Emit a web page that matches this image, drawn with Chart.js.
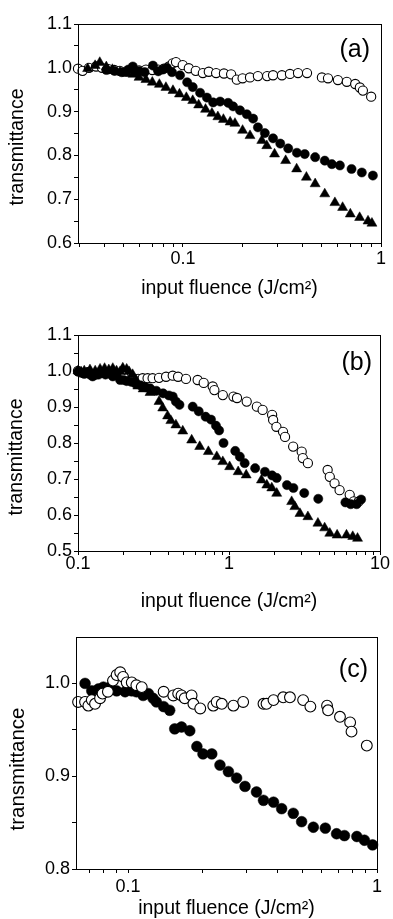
<!DOCTYPE html>
<html><head><meta charset="utf-8">
<script src="https://cdn.jsdelivr.net/npm/chart.js@4.4.1/dist/chart.umd.min.js"></script>
<style>
html,body{margin:0;padding:0;background:#fff;width:393px;height:919px;overflow:hidden;position:relative;}
canvas{position:absolute;left:0;}
</style></head><body>
<canvas id="ca" width="393" height="310" style="top:0px"></canvas>
<canvas id="cb" width="393" height="320" style="top:300px"></canvas>
<canvas id="cc" width="393" height="314" style="top:605px"></canvas>
<script>
// ---------- DATA ----------
// panel (a)
const aOpenX = [0.0295,0.0311,0.0335,0.0364,0.039,0.042,0.045,0.048,0.052,0.056,0.060,0.065,0.070,0.075,0.080,0.085,0.0887,0.0922,0.0997,0.107,0.116,0.126,0.135,0.147,0.161,0.175,0.187,0.200,0.218,0.239,0.266,0.285,0.316,0.347,0.381,0.423,0.503,0.540,0.606,0.672,0.741,0.782,0.810,0.892];
const aOpenY = [0.998,0.993,1.000,1.003,1.000,0.997,0.995,0.993,0.992,0.993,0.994,0.996,0.995,0.996,0.998,1.003,1.010,1.013,1.006,0.999,0.993,0.988,0.991,0.988,0.987,0.985,0.973,0.976,0.978,0.981,0.981,0.983,0.983,0.986,0.988,0.988,0.978,0.976,0.972,0.968,0.963,0.955,0.948,0.934];
const aFillX = [0.041,0.045,0.049,0.053,0.0558,0.060,0.064,0.0705,0.075,0.079,0.083,0.088,0.0966,0.105,0.112,0.122,0.132,0.142,0.154,0.169,0.179,0.194,0.210,0.226,0.239,0.259,0.285,0.310,0.340,0.376,0.412,0.465,0.520,0.565,0.620,0.710,0.800,0.910];
const aFillY = [0.995,0.993,0.990,0.996,1.003,0.992,0.990,1.005,0.992,0.996,1.000,0.990,0.983,0.967,0.956,0.943,0.932,0.921,0.923,0.920,0.912,0.903,0.894,0.884,0.864,0.851,0.839,0.827,0.816,0.806,0.803,0.796,0.788,0.780,0.777,0.769,0.761,0.754];
const aTriX = [0.033,0.036,0.038,0.041,0.044,0.048,0.052,0.056,0.060,0.065,0.070,0.076,0.082,0.089,0.096,0.104,0.112,0.120,0.130,0.140,0.150,0.160,0.173,0.183,0.200,0.218,0.250,0.265,0.290,0.330,0.375,0.420,0.465,0.520,0.585,0.640,0.700,0.780,0.860,0.900];
const aTriY = [0.998,1.005,1.012,1.002,0.996,0.990,0.987,0.985,0.978,0.973,0.967,0.962,0.955,0.948,0.940,0.932,0.925,0.915,0.905,0.896,0.888,0.882,0.876,0.873,0.857,0.845,0.834,0.822,0.803,0.788,0.769,0.750,0.735,0.712,0.692,0.681,0.666,0.658,0.650,0.645];
// panel (b)
const bOpenX = [0.100,0.115,0.130,0.150,0.170,0.200,0.230,0.250,0.268,0.289,0.312,0.344,0.383,0.424,0.460,0.519,0.620,0.680,0.780,0.800,0.910,1.070,1.130,1.310,1.530,1.670,1.930,1.960,2.060,2.280,2.350,2.660,3.030,3.080,3.330,4.500,4.650,5.000,5.400,6.300,6.700,7.200];
const bOpenY = [1.000,0.995,0.990,0.995,0.990,0.985,0.980,0.978,0.980,0.980,0.980,0.981,0.984,0.987,0.984,0.978,0.975,0.967,0.957,0.947,0.933,0.929,0.925,0.915,0.901,0.892,0.878,0.864,0.845,0.831,0.817,0.790,0.776,0.758,0.744,0.725,0.706,0.688,0.669,0.656,0.638,0.637];
const bFillX = [0.100,0.105,0.110,0.115,0.120,0.125,0.130,0.137,0.145,0.152,0.160,0.170,0.180,0.190,0.200,0.210,0.225,0.240,0.260,0.280,0.300,0.330,0.366,0.400,0.424,0.445,0.470,0.575,0.630,0.700,0.760,0.820,0.860,0.920,1.100,1.180,1.270,1.490,1.730,1.930,2.070,2.420,2.670,3.150,3.900,5.900,6.400,7.000,7.500];
const bFillY = [0.998,0.995,0.992,0.997,0.990,0.985,0.993,0.990,0.996,0.990,0.993,0.985,0.988,0.975,0.975,0.972,0.970,0.965,0.960,0.955,0.952,0.945,0.938,0.932,0.929,0.915,0.906,0.901,0.888,0.873,0.865,0.848,0.835,0.800,0.778,0.762,0.744,0.730,0.720,0.710,0.703,0.683,0.675,0.661,0.645,0.635,0.630,0.630,0.643];
const bTriX = [0.100,0.105,0.110,0.115,0.120,0.130,0.140,0.150,0.160,0.170,0.180,0.190,0.198,0.210,0.218,0.230,0.242,0.249,0.270,0.300,0.344,0.364,0.392,0.412,0.445,0.494,0.566,0.640,0.730,0.830,0.910,1.010,1.150,1.300,1.640,1.780,1.920,2.070,2.600,2.730,2.950,3.330,3.880,4.300,4.650,5.200,6.000,6.600,7.100];
const bTriY = [1.000,0.997,1.000,0.995,1.003,1.000,1.005,1.007,1.003,1.007,1.000,0.998,1.008,1.005,0.998,0.990,0.975,0.958,0.950,0.940,0.915,0.897,0.875,0.862,0.850,0.833,0.808,0.790,0.776,0.762,0.748,0.734,0.720,0.711,0.697,0.683,0.675,0.660,0.637,0.623,0.604,0.595,0.577,0.564,0.549,0.544,0.544,0.540,0.535];
// panel (c)
const cOpenX = [0.063,0.0672,0.0693,0.0715,0.0737,0.0772,0.079,0.083,0.087,0.090,0.093,0.0955,0.0988,0.1035,0.108,0.1135,0.139,0.152,0.159,0.164,0.169,0.180,0.183,0.195,0.220,0.227,0.238,0.265,0.290,0.350,0.360,0.384,0.420,0.447,0.505,0.540,0.630,0.636,0.710,0.780,0.790,0.910];
const cOpenY = [0.980,0.980,0.976,0.982,0.978,0.984,0.989,0.991,1.003,1.009,1.012,1.007,1.001,1.001,0.998,0.996,0.991,0.987,0.989,0.987,0.984,0.987,0.978,0.973,0.976,0.980,0.978,0.976,0.980,0.978,0.978,0.982,0.985,0.985,0.982,0.975,0.976,0.971,0.964,0.958,0.948,0.933];
const cFillX = [0.0672,0.0715,0.076,0.0796,0.0847,0.090,0.0973,0.1035,0.108,0.115,0.1207,0.126,0.130,0.139,0.147,0.154,0.164,0.177,0.189,0.200,0.217,0.234,0.253,0.273,0.295,0.328,0.350,0.384,0.414,0.461,0.498,0.555,0.620,0.688,0.740,0.830,0.890,0.960];
const cFillY = [1.000,0.992,0.994,0.996,0.996,0.992,0.991,0.992,0.991,0.987,0.989,0.984,0.980,0.975,0.971,0.951,0.953,0.949,0.932,0.924,0.924,0.912,0.905,0.898,0.889,0.883,0.874,0.872,0.865,0.860,0.851,0.845,0.844,0.838,0.836,0.835,0.831,0.826];

// ---------- TICKS ----------
const aXMajor = [0.1, 1];            const aXMajorLabels = ['0.1', '1'];
const aXMinor = [0.03,0.04,0.05,0.06,0.07,0.08,0.09,0.2,0.3,0.4,0.5,0.6,0.7,0.8,0.9];
const aYMajor = [0.6,0.7,0.8,0.9,1.0,1.1]; const aYMajorLabels = ['0.6','0.7','0.8','0.9','1.0','1.1'];
const aYMinor = [0.65,0.75,0.85,0.95,1.05];

const bXMajor = [0.1, 1, 10];        const bXMajorLabels = ['0.1', '1', '10'];
const bXMinor = [0.2,0.3,0.4,0.5,0.6,0.7,0.8,0.9,2,3,4,5,6,7,8,9];
const bYMajor = [0.5,0.6,0.7,0.8,0.9,1.0,1.1]; const bYMajorLabels = ['0.5','0.6','0.7','0.8','0.9','1.0','1.1'];
const bYMinor = [0.55,0.65,0.75,0.85,0.95,1.05];

const cXMajor = [0.1, 1];            const cXMajorLabels = ['0.1', '1'];
const cXMinor = [0.07,0.08,0.09,0.2,0.3,0.4,0.5,0.6,0.7,0.8,0.9];
const cYMajor = [0.8,0.9,1.0];       const cYMajorLabels = ['0.8','0.9','1.0'];
const cYMinor = [0.85,0.95];

const xTitle = 'input fluence (J/cm²)';
const yTitle = 'transmittance';
const panelLabels = ['(a)', '(b)', '(c)'];

// ---------- RENDER ----------
const FONT = '"Liberation Sans", Arial, Helvetica, sans-serif';

const panelDecor = {
  id: 'panelDecor',
  afterDraw(chart, args, o) {
    const {ctx, chartArea: ca} = chart;
    ctx.save();
    ctx.strokeStyle = '#000';
    ctx.lineWidth = 1;
    ctx.strokeRect(Math.round(ca.left) + 0.5, Math.round(ca.top) + 0.5, Math.round(ca.right - ca.left), Math.round(ca.bottom - ca.top));
    ctx.fillStyle = '#000';
    ctx.font = o.labelSize + 'px ' + FONT;
    ctx.textAlign = 'right';
    ctx.textBaseline = 'middle';
    ctx.fillText(o.label, ca.right - o.labelDx, ca.top + o.labelDy);
    ctx.translate(o.yTitleX, ca.top + o.yTitleDy);
    ctx.rotate(-Math.PI / 2);
    ctx.textAlign = 'center';
    ctx.font = o.yTitleSize + 'px ' + FONT;
    ctx.fillText(yTitle, 0, 0);
    ctx.restore();
  }
};

function ticksFrom(major, minor) {
  return (scale) => {
    scale.ticks = major.concat(minor).sort((p, q) => p - q).map(v => ({value: v}));
  };
}
function labelFrom(major, labels) {
  return (v) => { const i = major.indexOf(v); return i >= 0 ? labels[i] : ''; };
}

function ds(xs, ys, style, r, fill, bw, order) {
  return {
    data: xs.map((x, i) => ({x: x, y: ys[i]})),
    pointStyle: style, pointRadius: r, pointHoverRadius: r,
    pointBackgroundColor: fill, pointBorderColor: '#000', pointBorderWidth: bw,
    backgroundColor: fill, borderColor: '#000',
    showLine: false, order: order, clip: false
  };
}

function makePanel(id, c) {
  return new Chart(document.getElementById(id), {
    type: 'scatter',
    data: {datasets: c.datasets},
    options: {
      responsive: false, animation: false, devicePixelRatio: 1,
      events: [],
      layout: {padding: {left: 0, right: c.padRight, top: c.padTop, bottom: 0}},
      plugins: {
        legend: {display: false}, tooltip: {enabled: false},
        panelDecor: c.decor
      },
      scales: {
        x: {
          type: 'logarithmic', position: 'bottom', min: c.xMin, max: c.xMax,
          afterFit: (s) => { s.height = c.xAxisH; },
          afterBuildTicks: ticksFrom(c.xMajor, c.xMinor),
          ticks: {autoSkip: false, maxRotation: 0, minRotation: 0, padding: c.xTickPad, color: '#000',
                  font: {family: FONT, size: 18, lineHeight: 1}, callback: labelFrom(c.xMajor, c.xLabels)},
          grid: {drawOnChartArea: false, drawTicks: true, tickLength: 4, color: '#000', lineWidth: 1},
          border: {display: true, color: '#000', width: 1},
          title: {display: true, text: xTitle, color: '#000',
                  font: {family: FONT, size: 19.5, lineHeight: 1}, padding: {top: 0, bottom: c.xTitlePad}}
        },
        y: {
          type: 'linear', position: 'left', min: c.yMin, max: c.yMax,
          afterFit: (s) => { s.width = c.yAxisW; },
          afterBuildTicks: ticksFrom(c.yMajor, c.yMinor),
          ticks: {autoSkip: false, padding: 2, color: '#000',
                  font: {family: FONT, size: 18, lineHeight: 1}, callback: labelFrom(c.yMajor, c.yLabels)},
          grid: {drawOnChartArea: false, drawTicks: true, tickLength: 4, color: '#000', lineWidth: 1},
          border: {display: true, color: '#000', width: 1},
          title: {display: false}
        }
      }
    },
    plugins: [panelDecor]
  });
}

makePanel('ca', {
  datasets: [
    ds(aOpenX, aOpenY, 'circle', 4.6, '#fff', 1.1, 2),
    ds(aTriX, aTriY, 'triangle', 5.8, '#000', 0.5, 1),
    ds(aFillX, aFillY, 'circle', 4.6, '#000', 0.5, 0)
  ],
  padRight: 12, padTop: 24, xAxisH: 67, yAxisW: 78, xTickPad: 3, xTitlePad: 12,
  xMin: 0.0295, xMax: 1, yMin: 0.6, yMax: 1.1,
  xMajor: aXMajor, xMinor: aXMinor, xLabels: aXMajorLabels,
  yMajor: aYMajor, yMinor: aYMinor, yLabels: aYMajorLabels,
  decor: {label: panelLabels[0], labelDx: 11, labelDy: 26, labelSize: 25, yTitleX: 18, yTitleDy: 123, yTitleSize: 19.5}
});

makePanel('cb', {
  datasets: [
    ds(bOpenX, bOpenY, 'circle', 4.6, '#fff', 1.1, 2),
    ds(bTriX, bTriY, 'triangle', 5.8, '#000', 0.5, 1),
    ds(bFillX, bFillY, 'circle', 4.6, '#000', 0.5, 0)
  ],
  padRight: 13, padTop: 35, xAxisH: 69, yAxisW: 78, xTickPad: 0, xTitlePad: 9,
  xMin: 0.1, xMax: 10, yMin: 0.5, yMax: 1.1,
  xMajor: bXMajor, xMinor: bXMinor, xLabels: bXMajorLabels,
  yMajor: bYMajor, yMinor: bYMinor, yLabels: bYMajorLabels,
  decor: {label: panelLabels[1], labelDx: 8, labelDy: 28, labelSize: 25, yTitleX: 17, yTitleDy: 122, yTitleSize: 19.5}
});

makePanel('cc', {
  datasets: [
    ds(cFillX, cFillY, 'circle', 5.4, '#000', 0.5, 1),
    ds(cOpenX, cOpenY, 'circle', 5.4, '#fff', 1.1, 0)
  ],
  padRight: 16, padTop: 32, xAxisH: 50, yAxisW: 76, xTickPad: 5, xTitlePad: 0.5,
  xMin: 0.0618, xMax: 1, yMin: 0.8, yMax: 1.05,
  xMajor: cXMajor, xMinor: cXMinor, xLabels: cXMajorLabels,
  yMajor: cYMajor, yMinor: cYMinor, yLabels: cYMajorLabels,
  decor: {label: panelLabels[2], labelDx: 9, labelDy: 33, labelSize: 25, yTitleX: 18, yTitleDy: 132, yTitleSize: 20.5}
});
</script>
</body></html>
